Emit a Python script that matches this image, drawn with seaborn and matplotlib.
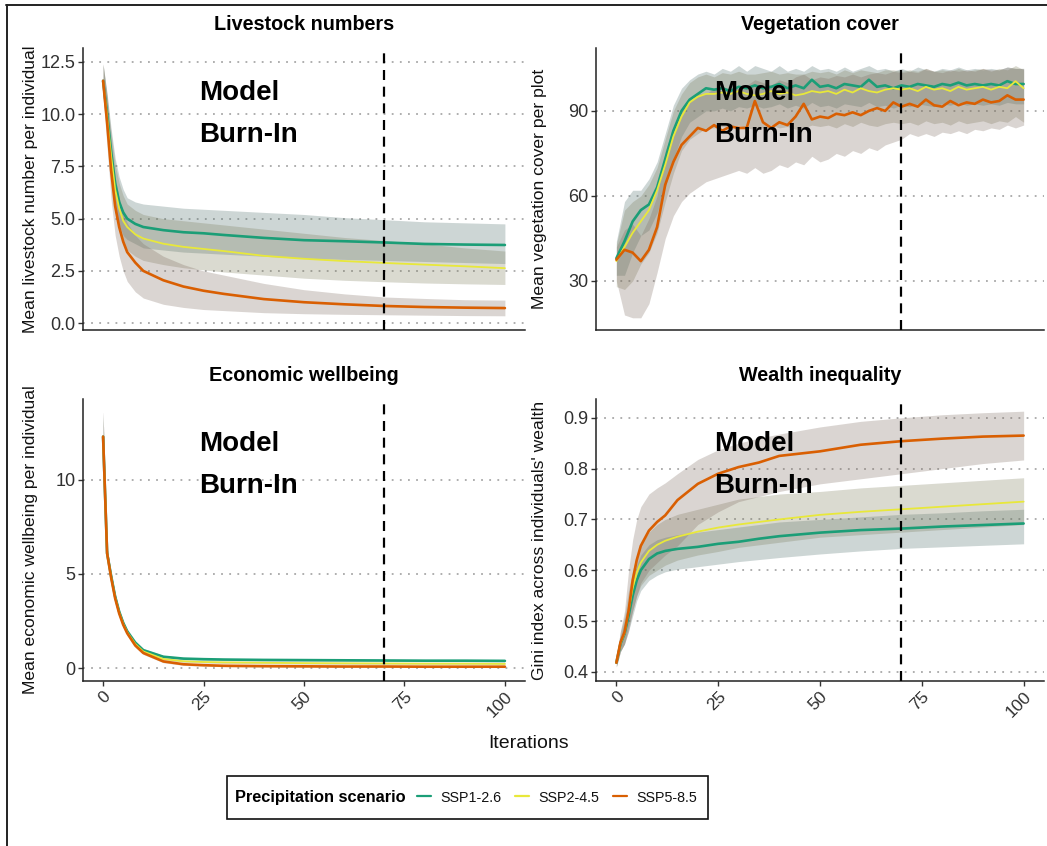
import numpy as np
import pandas as pd
import matplotlib
matplotlib.use("Agg")
import matplotlib.pyplot as plt
import seaborn as sns
from matplotlib.lines import Line2D
from matplotlib.patches import Rectangle

# ---------------- data ----------------
scenarios = ["SSP1-2.6", "SSP2-4.5", "SSP5-8.5"]
panel_titles = ["Livestock numbers", "Vegetation cover", "Economic wellbeing", "Wealth inequality"]
y_labels = ["Mean livestock number per individual", "Mean vegetation cover per plot",
            "Mean economic wellbeing per individual", "Gini index across individuals' wealth"]
x_ticks = [0, 25, 50, 75, 100]
burn_in_end = 70

# Livestock numbers
live_x = [0, 1, 2, 3, 4, 5, 6, 8, 10, 15, 20, 25, 30, 40, 50, 60, 70, 80, 90, 100]
live_ssp1 = [11.6, 10.0, 8.2, 6.7, 5.8, 5.3, 5.0, 4.75, 4.6, 4.45, 4.35, 4.3, 4.22, 4.08, 3.97, 3.92, 3.86, 3.79, 3.76, 3.74]
live_ssp1_hi = [12.4, 11.0, 9.3, 7.9, 7.0, 6.4, 6.0, 5.8, 5.7, 5.6, 5.5, 5.45, 5.4, 5.3, 5.2, 5.05, 4.95, 4.85, 4.8, 4.75]
live_ssp1_lo = [10.9, 9.0, 7.1, 5.6, 4.7, 4.2, 4.0, 3.8, 3.6, 3.5, 3.4, 3.35, 3.3, 3.2, 3.1, 3.05, 3.0, 2.95, 2.9, 2.85]
live_ssp2 = [11.6, 9.9, 8.0, 6.4, 5.5, 4.9, 4.6, 4.25, 4.05, 3.8, 3.65, 3.55, 3.45, 3.22, 3.08, 2.97, 2.88, 2.8, 2.72, 2.63]
live_ssp2_hi = [12.4, 10.9, 9.1, 7.6, 6.7, 6.1, 5.7, 5.4, 5.2, 5.0, 4.9, 4.8, 4.7, 4.5, 4.3, 4.1, 3.95, 3.8, 3.6, 3.45]
live_ssp2_lo = [10.8, 8.9, 6.9, 5.3, 4.4, 3.8, 3.5, 3.2, 3.0, 2.8, 2.65, 2.55, 2.45, 2.3, 2.15, 2.05, 1.98, 1.92, 1.88, 1.85]
live_ssp5 = [11.6, 9.6, 7.3, 5.6, 4.6, 3.9, 3.4, 2.9, 2.5, 2.05, 1.75, 1.55, 1.4, 1.15, 1.0, 0.9, 0.82, 0.77, 0.74, 0.72]
live_ssp5_hi = [12.4, 10.8, 8.7, 7.0, 6.0, 5.3, 4.8, 4.2, 3.8, 3.2, 2.8, 2.5, 2.3, 1.9, 1.6, 1.4, 1.25, 1.18, 1.12, 1.1]
live_ssp5_lo = [10.8, 8.4, 5.9, 4.2, 3.2, 2.5, 2.0, 1.5, 1.2, 0.9, 0.75, 0.65, 0.6, 0.5, 0.45, 0.42, 0.4, 0.38, 0.36, 0.35]

# Vegetation cover (every 2 iterations)
veg_x = list(range(0, 101, 2))
veg_ssp1 = [38, 44, 51, 55, 57, 63, 73, 83, 90, 94, 96, 98, 97.5, 98, 97, 98.5, 98, 99, 98, 98.5,
            99.5, 98, 99, 98, 101, 98.5, 99, 98, 99.5, 99, 98.5, 101, 98.5, 99, 98, 99, 98.5, 99.5,
            99, 98.5, 99.5, 99, 100, 99, 99.5, 99, 99.5, 99, 100.5, 99.5, 99.5]
veg_ssp1_hi = [44, 58, 62, 62, 66, 72, 82, 92, 98, 101, 103, 104, 103, 105, 104, 106, 104, 106, 105, 104,
               106, 104, 105, 104, 106, 104.5, 105, 104, 105.5, 104, 105, 106, 104.5, 105, 104, 105, 104,
               105.5, 104.5, 104, 105, 104.5, 105.5, 104.5, 105, 104.5, 105, 104.5, 105.5, 105, 105]
veg_ssp1_lo = [32, 32, 40, 46, 48, 54, 63, 73, 81, 86, 88, 90, 90, 91, 90, 91.5, 91, 92, 91, 91.5,
               92.5, 91, 92, 91, 93, 91.5, 92, 91, 92.5, 92, 91.5, 93, 91.5, 92, 91, 92, 91.5, 92.5,
               92, 91.5, 92.5, 92, 93, 92, 92.5, 92, 92.5, 92, 93, 92.5, 92.5]
veg_ssp2 = [37, 42, 47, 51, 55, 62, 71, 81, 88, 93, 95, 96, 96, 96.5, 96, 97, 96, 95.5, 96, 97,
            96, 96.5, 95.5, 96, 97, 96.5, 97, 96, 97.5, 96.5, 98, 97, 96.5, 97.5, 98, 97.5, 98, 97,
            98.5, 97.5, 98, 97, 98.5, 97.5, 98, 98.5, 97.5, 98.5, 98, 100.5, 98]
veg_ssp2_hi = [43, 55, 58, 60, 64, 70, 80, 90, 96, 100, 102, 103, 102, 103.5, 103, 104, 103, 103, 103.5, 104,
               103, 103.5, 103, 103, 104, 103.5, 104, 103, 104.5, 103.5, 104.5, 104, 103.5, 104.5, 104.5, 104, 104.5, 104,
               105, 104, 104.5, 104, 105, 104, 104.5, 105, 104, 105, 104.5, 106, 104.5]
veg_ssp2_lo = [28, 27, 30, 36, 40, 47, 58, 68, 76, 80, 82, 84, 84, 84.5, 84, 85, 84, 83.5, 84, 85,
               84, 84.5, 83.5, 84, 85, 84.5, 85, 84, 85.5, 84.5, 86, 85, 84.5, 85.5, 86, 85.5, 86, 85,
               86.5, 85.5, 86, 85, 86.5, 85.5, 86, 86.5, 85.5, 86.5, 86, 88, 86]
veg_ssp5 = [37.5, 41, 40, 37, 41, 49, 64, 72, 78, 81, 84, 83, 85, 83, 84.5, 84, 84, 93.5, 86, 84,
            86, 85, 88, 92.5, 87, 88, 87.5, 89, 88.5, 89.5, 88.5, 90, 91, 90, 93, 91.5, 92.5, 91.5,
            94, 92, 91.5, 93.5, 92, 93, 92.5, 94, 93, 93.5, 95.5, 94, 94]
veg_ssp5_hi = [42, 48, 50, 46, 52, 60, 76, 84, 90, 93, 96, 96, 98, 97, 98, 98, 99, 101, 100, 99,
               101, 100, 102, 103, 101, 102, 101.5, 102.5, 102, 103, 102, 103, 103.5, 103, 104, 103.5, 104, 103.5,
               105, 104, 103.5, 104.5, 104, 104.5, 104, 105, 104.5, 104.5, 105.5, 105, 105]
veg_ssp5_lo = [30, 18, 17, 17, 22, 33, 45, 53, 58, 61, 63, 65, 66, 67, 68, 69, 68, 70, 68, 69,
               71, 70, 72, 71, 74, 72, 73, 75, 74, 76, 75, 77, 76, 78, 79, 80, 82, 81, 82, 81,
               82.5, 82, 83, 82, 83.5, 83, 84, 83.5, 85, 84, 85]

# Economic wellbeing
econ_x = [0, 1, 2, 3, 4, 5, 6, 8, 10, 15, 20, 25, 30, 40, 50, 60, 70, 80, 90, 100]
econ_ssp1 = [12.3, 6.1, 4.9, 3.8, 3.0, 2.4, 1.95, 1.35, 0.95, 0.6, 0.5, 0.47, 0.45, 0.43, 0.42, 0.41, 0.4, 0.39, 0.39, 0.38]
econ_ssp1_hi = [13.6, 6.4, 5.1, 4.0, 3.15, 2.55, 2.08, 1.46, 1.04, 0.67, 0.56, 0.53, 0.51, 0.49, 0.48, 0.47, 0.46, 0.45, 0.45, 0.44]
econ_ssp1_lo = [11.6, 5.8, 4.7, 3.6, 2.85, 2.25, 1.82, 1.24, 0.86, 0.53, 0.44, 0.41, 0.39, 0.37, 0.36, 0.35, 0.34, 0.33, 0.33, 0.32]
econ_ssp2 = [12.3, 6.1, 4.85, 3.75, 2.95, 2.35, 1.9, 1.28, 0.88, 0.48, 0.36, 0.32, 0.3, 0.28, 0.26, 0.25, 0.24, 0.23, 0.23, 0.22]
econ_ssp2_hi = [13.6, 6.4, 5.05, 3.95, 3.1, 2.5, 2.03, 1.38, 0.96, 0.55, 0.42, 0.38, 0.36, 0.34, 0.32, 0.31, 0.3, 0.29, 0.29, 0.28]
econ_ssp2_lo = [11.6, 5.8, 4.65, 3.55, 2.8, 2.2, 1.77, 1.18, 0.8, 0.41, 0.3, 0.26, 0.24, 0.22, 0.2, 0.19, 0.18, 0.17, 0.17, 0.16]
econ_ssp5 = [12.3, 6.1, 4.8, 3.7, 2.9, 2.3, 1.85, 1.2, 0.8, 0.35, 0.2, 0.15, 0.12, 0.1, 0.09, 0.08, 0.08, 0.07, 0.07, 0.07]
econ_ssp5_hi = [13.6, 6.4, 5.0, 3.9, 3.05, 2.45, 1.98, 1.3, 0.88, 0.42, 0.26, 0.2, 0.17, 0.15, 0.14, 0.13, 0.12, 0.11, 0.11, 0.11]
econ_ssp5_lo = [11.6, 5.8, 4.6, 3.5, 2.75, 2.15, 1.72, 1.1, 0.72, 0.28, 0.14, 0.1, 0.07, 0.05, 0.04, 0.03, 0.03, 0.03, 0.03, 0.03]

# Wealth inequality (Gini)
gini_x = [0, 1, 2, 3, 4, 5, 6, 8, 10, 12, 15, 20, 25, 30, 35, 40, 50, 60, 70, 80, 90, 100]
gini_ssp1 = [0.418, 0.455, 0.475, 0.51, 0.55, 0.58, 0.60, 0.622, 0.633, 0.638, 0.642, 0.646, 0.652, 0.656, 0.662, 0.667, 0.674, 0.679, 0.682, 0.686, 0.689, 0.692]
gini_ssp1_hi = [0.43, 0.47, 0.50, 0.54, 0.58, 0.61, 0.63, 0.65, 0.66, 0.665, 0.67, 0.675, 0.68, 0.685, 0.69, 0.695, 0.70, 0.705, 0.71, 0.713, 0.717, 0.72]
gini_ssp1_lo = [0.41, 0.44, 0.455, 0.48, 0.51, 0.54, 0.56, 0.58, 0.59, 0.597, 0.602, 0.607, 0.612, 0.617, 0.621, 0.625, 0.632, 0.638, 0.643, 0.646, 0.649, 0.652]
gini_ssp2 = [0.418, 0.456, 0.476, 0.52, 0.565, 0.595, 0.615, 0.638, 0.65, 0.658, 0.666, 0.676, 0.684, 0.69, 0.695, 0.70, 0.709, 0.715, 0.72, 0.725, 0.73, 0.735]
gini_ssp2_hi = [0.43, 0.48, 0.51, 0.56, 0.60, 0.63, 0.65, 0.675, 0.69, 0.70, 0.71, 0.72, 0.73, 0.74, 0.745, 0.75, 0.755, 0.762, 0.767, 0.772, 0.777, 0.782]
gini_ssp2_lo = [0.41, 0.44, 0.455, 0.49, 0.52, 0.55, 0.57, 0.59, 0.60, 0.61, 0.62, 0.63, 0.637, 0.645, 0.65, 0.655, 0.665, 0.67, 0.675, 0.68, 0.685, 0.69]
gini_ssp5 = [0.418, 0.458, 0.478, 0.52, 0.58, 0.62, 0.648, 0.678, 0.695, 0.708, 0.738, 0.77, 0.79, 0.803, 0.812, 0.825, 0.834, 0.847, 0.854, 0.859, 0.863, 0.865]
gini_ssp5_hi = [0.43, 0.48, 0.52, 0.60, 0.66, 0.70, 0.725, 0.75, 0.762, 0.772, 0.79, 0.818, 0.837, 0.85, 0.86, 0.868, 0.882, 0.893, 0.90, 0.906, 0.91, 0.913]
gini_ssp5_lo = [0.41, 0.44, 0.455, 0.48, 0.52, 0.55, 0.575, 0.60, 0.615, 0.63, 0.648, 0.69, 0.715, 0.735, 0.745, 0.755, 0.77, 0.78, 0.79, 0.80, 0.81, 0.817]

# ---------------- style ----------------
line_colors = {"SSP1-2.6": "#1B9E77", "SSP2-4.5": "#E8E83A", "SSP5-8.5": "#D95F02"}
line_widths = {"SSP1-2.6": 1.9, "SSP2-4.5": 1.3, "SSP5-8.5": 1.9}
ribbon_colors = {"SSP1-2.6": "#4d6e6a", "SSP2-4.5": "#7a7a58", "SSP5-8.5": "#7d6a5e"}
ribbon_alpha = 0.28

sns.set_theme(style="white")
plt.rcParams["font.family"] = ["Liberation Sans", "DejaVu Sans"]
plt.rcParams["text.color"] = "black"
plt.rcParams["axes.labelcolor"] = "black"
plt.rcParams["axes.titlecolor"] = "black"

W, H = 1047, 846
fig = plt.figure(figsize=(W / 100, H / 100), dpi=100)

def px_axes(left, right, top, bottom):
    return fig.add_axes([left / W, 1 - bottom / H, (right - left) / W, (bottom - top) / H])

axes = [px_axes(83, 525, 48, 330), px_axes(596, 1044, 48, 330),
        px_axes(83, 525, 399, 681), px_axes(596, 1044, 399, 681)]
label_x = [-0.102, -0.109, -0.102, -0.109]

panels = [
    (live_x, [live_ssp1, live_ssp2, live_ssp5], [live_ssp1_lo, live_ssp2_lo, live_ssp5_lo],
     [live_ssp1_hi, live_ssp2_hi, live_ssp5_hi], (-0.33, 13.17), [0.0, 2.5, 5.0, 7.5, 10.0, 12.5], "{:.1f}"),
    (veg_x, [veg_ssp1, veg_ssp2, veg_ssp5], [veg_ssp1_lo, veg_ssp2_lo, veg_ssp5_lo],
     [veg_ssp1_hi, veg_ssp2_hi, veg_ssp5_hi], (12.7, 112.2), [30, 60, 90], "{:.0f}"),
    (econ_x, [econ_ssp1, econ_ssp2, econ_ssp5], [econ_ssp1_lo, econ_ssp2_lo, econ_ssp5_lo],
     [econ_ssp1_hi, econ_ssp2_hi, econ_ssp5_hi], (-0.69, 14.3), [0, 5, 10], "{:.0f}"),
    (gini_x, [gini_ssp1, gini_ssp2, gini_ssp5], [gini_ssp1_lo, gini_ssp2_lo, gini_ssp5_lo],
     [gini_ssp1_hi, gini_ssp2_hi, gini_ssp5_hi], (0.382, 0.937), [0.4, 0.5, 0.6, 0.7, 0.8, 0.9], "{:.1f}"),
]

for i, (ax, (xs, means, los, his, ylim, yticks, fmt)) in enumerate(zip(axes, panels)):
    df = pd.DataFrame({"x": np.tile(xs, 3), "y": np.concatenate(means),
                       "lo": np.concatenate(los), "hi": np.concatenate(his),
                       "scenario": np.repeat(scenarios, len(xs))})
    for sc in scenarios:
        d = df[df.scenario == sc]
        ax.fill_between(d.x, d.lo, d.hi, color=ribbon_colors[sc], alpha=ribbon_alpha,
                        linewidth=0, zorder=2)
    for sc in scenarios:
        d = df[df.scenario == sc]
        sns.lineplot(data=d, x="x", y="y", color=line_colors[sc], linewidth=line_widths[sc],
                     ax=ax, legend=False, zorder=3)
    ax.axvline(burn_in_end, color="black", linestyle=(0, (4.5, 3)), linewidth=1.6, zorder=5)
    ax.set_xlim(-5, 105)
    ax.set_ylim(*ylim)
    ax.set_yticks(yticks)
    ax.set_yticklabels([fmt.format(v) for v in yticks])
    ax.yaxis.grid(True, linestyle=(0, (1, 3.5)), color="#a8a8a8", linewidth=1.3)
    ax.xaxis.grid(False)
    ax.set_axisbelow(True)
    for s in ["top", "right"]:
        ax.spines[s].set_visible(False)
    for s in ["left", "bottom"]:
        ax.spines[s].set_color("#222222")
        ax.spines[s].set_linewidth(1.1)
    ax.tick_params(axis="y", which="both", left=True, length=3.5, width=1.0, color="#333333",
                   labelsize=13, labelcolor="#303030", pad=2)
    ax.set_xticks(x_ticks)
    if i < 2:
        ax.tick_params(axis="x", bottom=False, labelbottom=False)
    else:
        ax.tick_params(axis="x", bottom=True, length=3.5, width=1.0, color="#333333",
                       labelsize=12.5, labelcolor="#303030", pad=2)
        for lab in ax.get_xticklabels():
            lab.set_rotation(45)
            lab.set_ha("right")
            lab.set_va("top")
            lab.set_rotation_mode("anchor")
    ax.set_xlabel("")
    ax.set_ylabel(y_labels[i], fontsize=12.6, color="#111111")
    ax.yaxis.set_label_coords(label_x[i], 0.5)
    ax.set_title(panel_titles[i], fontsize=14.2, fontweight="bold", pad=13, color="black")
    ax.text(0.2636, 0.816, "Model", transform=ax.transAxes, fontsize=20, fontweight="bold",
            ha="left", va="baseline", zorder=6, color="black")
    ax.text(0.2636, 0.668, "Burn-In", transform=ax.transAxes, fontsize=20, fontweight="bold",
            ha="left", va="baseline", zorder=6, color="black")

fig.text(529 / W, 1 - 743 / H, "Iterations", fontsize=14, ha="center", va="center", color="#111111")

# legend: frame, bold title, and the three entries in one row
fig.add_artist(Rectangle((227 / W, 1 - 819 / H), (708 - 227) / W, (819 - 776) / H,
                         transform=fig.transFigure, facecolor="white", edgecolor="#111111",
                         linewidth=1.2, zorder=1))
fig.text(235 / W, 1 - 797.5 / H, "Precipitation scenario", fontsize=11.8, fontweight="bold",
         ha="left", va="center", color="black", zorder=2)
handles = [Line2D([0], [0], color=line_colors[sc], linewidth=1.6) for sc in scenarios]
leg = fig.legend(handles, scenarios, loc="center", bbox_to_anchor=(557 / W, 1 - 797.5 / H),
                 ncol=3, frameon=False, fontsize=10.3, handlelength=0.95, handletextpad=0.65,
                 columnspacing=1.0, borderpad=0)
leg.set_zorder(3)
for t in leg.get_texts():
    t.set_color("#111111")

# outer frame lines (top and left)
fig.add_artist(Line2D([5.5 / W, 1.0], [1 - 5.5 / H, 1 - 5.5 / H], transform=fig.transFigure,
                      color="#222222", linewidth=1.4))
fig.add_artist(Line2D([6.5 / W, 6.5 / W], [0.0, 1 - 5.5 / H], transform=fig.transFigure,
                      color="#222222", linewidth=1.4))

fig.savefig("out.png", dpi=100)
